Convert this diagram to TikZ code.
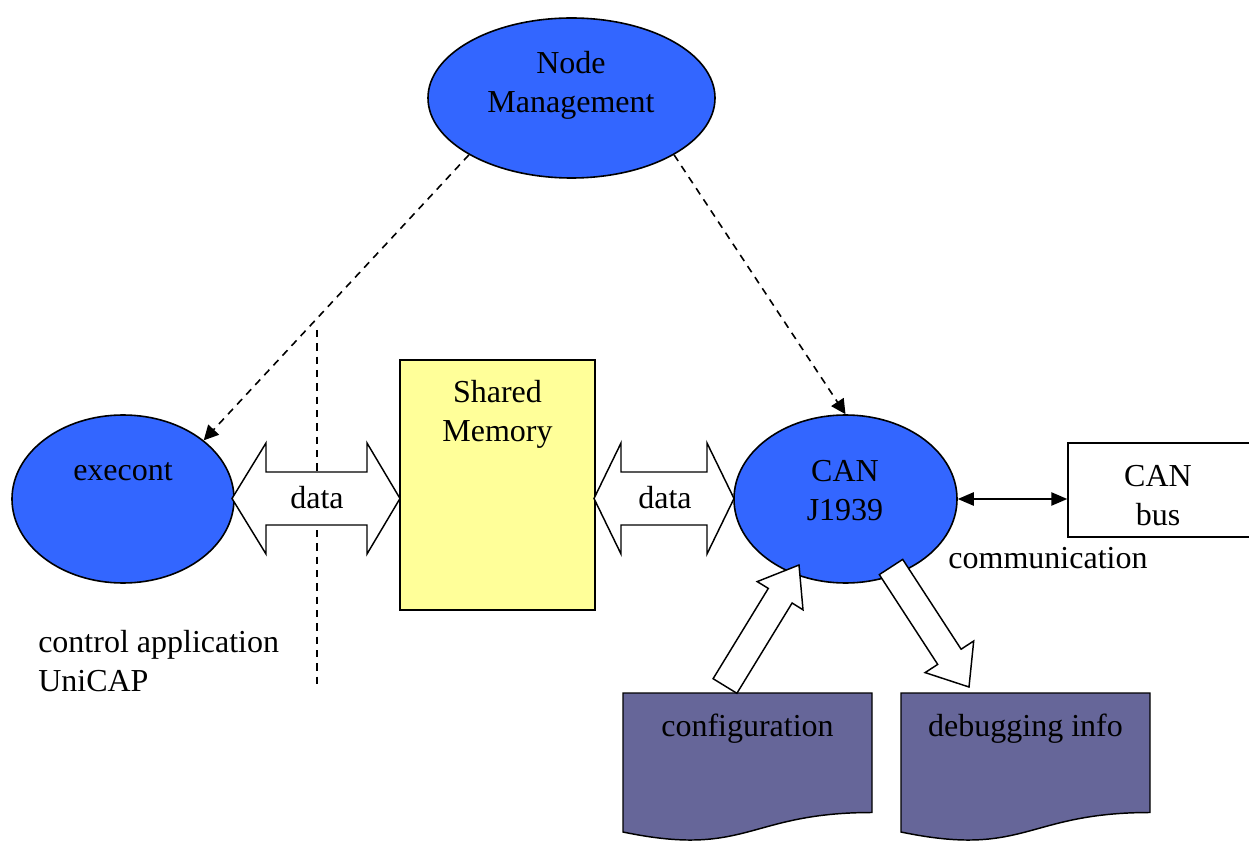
\documentclass[tikz,border=0pt]{standalone}
\usepackage{fontspec}
\setmainfont{Liberation Serif}
\usetikzlibrary{shapes.geometric,arrows.meta}
\definecolor{ellblue}{HTML}{3366FF}
\definecolor{memyellow}{HTML}{FFFF99}
\definecolor{docblue}{HTML}{666699}
\tikzset{
  ell/.style={ellipse,draw=black,line width=1.2pt,fill=ellblue,inner sep=0pt},
  txt/.style={inner sep=0pt,align=center,text=black},
  dashline/.style={line width=1.2pt,dash pattern=on 5.5pt off 4.5pt},
  dasharrow/.style={dashline,-{Triangle[length=11pt,width=11pt]}},
  blockarrow/.style={draw=black,fill=white,line width=1.1pt,line join=miter},
  docshape/.style={draw=black,fill=docblue,line width=1.1pt},
  boxstyle/.style={draw=black,line width=1.1pt,inner sep=0pt},
}
\begin{document}
\begin{tikzpicture}[x=0.75pt,y=-0.75pt,font=\fontsize{24}{29.25}\selectfont]
\useasboundingbox (0,0) rectangle (1249,841);
\clip (0,0) rectangle (1249,841);

% vertical dashed separator
\coordinate (sepTop) at (317,330);
\coordinate (sepBot) at (317,690);
\draw[dashline] (sepTop) -- (sepBot);

% ellipses
\node[ell,minimum width=215.25pt,minimum height=120pt] (nm) at (571.5,98) {};
\node[ell,minimum width=166.5pt,minimum height=126pt] (exe) at (123,499) {};
\node[ell,minimum width=167.25pt,minimum height=126pt] (can) at (845.5,499) {};
\node[txt] at (571,85) {Node\\Management};
\node[txt] at (123,472) {execont};
\node[txt] at (845,491) {CAN\\J1939};

% shared memory
\node[boxstyle,fill=memyellow,minimum width=146.25pt,minimum height=187.5pt] (shm) at (497.5,485) {};
\node[txt] at (497.5,414) {Shared\\Memory};

% CAN bus
\node[boxstyle,fill=white,minimum width=138pt,minimum height=70.5pt] (bus) at (1160,490) {};
\node[txt] at (1158,496) {CAN\\bus};
\node[txt] at (1048,558) {communication};

% dashed arrows
\draw[dasharrow] (nm.-151) -- (exe.36);
\draw[dasharrow] (nm.-29) -- (can.north);

% CAN <-> bus
\draw[line width=1.1pt,{Triangle[length=12pt,width=10pt]}-{Triangle[length=12pt,width=10pt]}] (can.east) -- (can.east -| bus.west);

% double block arrows (data)
\draw[blockarrow] (232,498.5) -- (266,443) -- (266,472) -- (367,472) -- (367,443) -- (400,498.5)
  -- (367,554) -- (367,525) -- (266,525) -- (266,554) -- cycle;
\node[txt] at (317,498) {data};
\draw[blockarrow] (594,498.5) -- (621,443) -- (621,472) -- (707,472) -- (707,443) -- (734,498.5)
  -- (707,554) -- (707,525) -- (621,525) -- (621,554) -- cycle;
\node[txt] at (665,498) {data};

% text left
\node[txt,anchor=west,align=left] at (38,661) {control application\\UniCAP};

% documents
\draw[docshape] (623,693) -- (872,693) -- (872,812.5) .. controls (747.5,812.5) and (747.5,858) .. (623,832) -- cycle;
\node[txt] at (747.5,729) {configuration};
\draw[docshape] (901,693) -- (1150,693) -- (1150,812.5) .. controls (1025.5,812.5) and (1025.5,858) .. (901,832) -- cycle;
\node[txt] at (1025.5,729) {debugging info};

% block arrows config -> CAN, CAN -> debug
\draw[blockarrow] (713.1,678.7) -- (768.3,588.4) -- (757.2,581.6) -- (799,565) -- (803.0,609.8) -- (792.1,603) -- (736.9,693.3) -- cycle;
\draw[blockarrow] (879.3,574.6) -- (937.7,664.4) -- (925.1,672.6) -- (969,687) -- (973.7,641) -- (961.1,649.2) -- (902.7,559.4) -- cycle;
\end{tikzpicture}
\end{document}
